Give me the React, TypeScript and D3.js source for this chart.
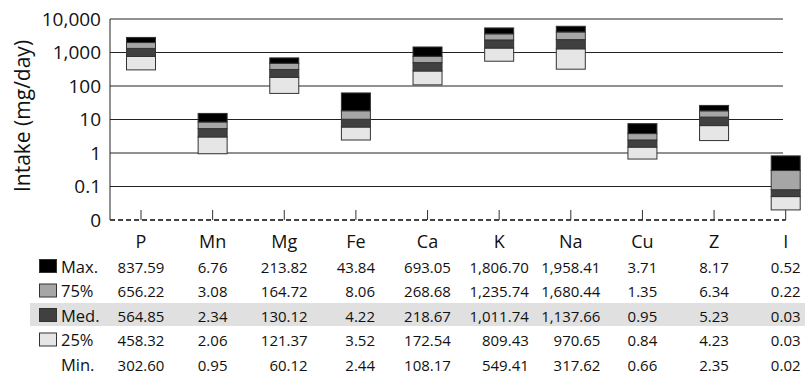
import React from 'react'
import * as d3 from 'd3'

const categories = ['P', 'Mn', 'Mg', 'Fe', 'Ca', 'K', 'Na', 'Cu', 'Z', 'I']
const maxVals = [837.59, 6.76, 213.82, 43.84, 693.05, 1806.7, 1958.41, 3.71, 8.17, 0.52]
const q75Vals = [656.22, 3.08, 164.72, 8.06, 268.68, 1235.74, 1680.44, 1.35, 6.34, 0.22]
const medVals = [564.85, 2.34, 130.12, 4.22, 218.67, 1011.74, 1137.66, 0.95, 5.23, 0.03]
const q25Vals = [458.32, 2.06, 121.37, 3.52, 172.54, 809.43, 970.65, 0.84, 4.23, 0.03]
const minVals = [302.6, 0.95, 60.12, 2.44, 108.17, 549.41, 317.62, 0.66, 2.35, 0.02]

const yTicks = [0.01, 0.1, 1, 10, 100, 1000, 10000]
const yTickLabels = ['0', '0.1', '1', '10', '100', '1,000', '10,000']

// table rows, top to bottom
const rowNames = ['Max.', '75%', 'Med.', '25%', 'Min.']
const rowValues = [maxVals, q75Vals, medVals, q25Vals, minVals]
const rowColors = ['#000000', '#a6a6a6', '#404040', '#e6e6e6', null]

const FONT = "'Open Sans', 'Noto Sans', sans-serif"

const fmt = (v: number) =>
	v.toLocaleString('en-US', {minimumFractionDigits: 2, maximumFractionDigits: 2})

let ctx: CanvasRenderingContext2D | null = null
function textWidth(s: string, size: number) {
	if (!ctx) ctx = document.createElement('canvas').getContext('2d')
	if (!ctx) return s.length * size * 0.55
	ctx.font = `${size}px ${FONT}`
	return ctx.measureText(s).width
}

export default function App() {
	const width = 805
	const height = 377
	const plotLeft = 110
	const gridRight = 783

	const x = d3.scalePoint<string>().domain(categories).range([141, 785.7])
	const y = d3.scaleLog().domain([0.01, 10000]).range([220, 19])
	const barW = 29

	// stacked: min (hidden) then 25%, med, 75%, max
	const table = categories.map((c, i) => ({
		cat: c,
		min: minVals[i], q25: q25Vals[i], med: medVals[i], q75: q75Vals[i], max: maxVals[i],
	}))
	const keys = ['min', 'q25', 'med', 'q75', 'max']
	const fills: Record<string, string> = {q25: '#e6e6e6', med: '#404040', q75: '#a6a6a6', max: '#000000'}
	const series = d3.stack<any>().keys(keys)(table)

	const rowY = (r: number) => 272.5 + r * 24.5
	const numSize = 15

	return (
		<svg width={width} height={height} style={{position: 'absolute', left: 0, top: 0}} fontFamily={FONT}>
			<rect width={width} height={height} fill="#fff" />

			{/* gridlines */}
			{yTicks.slice(1).map(t => (
				<line key={t} x1={plotLeft} x2={gridRight} y1={y(t)} y2={y(t)} stroke="#222" strokeWidth={1} />
			))}
			<line x1={plotLeft} x2={plotLeft} y1={y(10000)} y2={y(0.01)} stroke="#222" strokeWidth={1} />

			{/* bars */}
			{series.filter(s => s.key !== 'min').map(s => (
				<g key={s.key}>
					{s.map((d, i) => (
						<rect
							key={i}
							x={x(categories[i])! - barW / 2}
							y={y(d[1])}
							width={barW}
							height={y(d[0]) - y(d[1])}
							fill={fills[s.key]}
							stroke="#333"
							strokeWidth={1}
						/>
					))}
				</g>
			))}

			{/* bottom axis */}
			<line x1={plotLeft} x2={x('I')} y1={y(0.01)} y2={y(0.01)} stroke="#444" strokeWidth={2} strokeDasharray="5,3" />
			{categories.map(c => (
				<line key={c} x1={x(c)} x2={x(c)} y1={y(0.01) - 10} y2={y(0.01)} stroke="#333" strokeWidth={1} />
			))}

			{/* y tick labels */}
			{yTicks.map((t, i) => (
				<text key={t} x={101} y={y(t)} dy="0.35em" textAnchor="end" fontSize={19} fill="#111">
					{yTickLabels[i]}
				</text>
			))}
			<text transform={`translate(30,116) rotate(-90)`} textAnchor="middle" fontSize={21} fill="#111">
				Intake (mg/day)
			</text>

			{/* category labels */}
			{categories.map(c => (
				<text key={c} x={x(c)} y={248} textAnchor="middle" fontSize={18} fill="#111">{c}</text>
			))}

			{/* data table */}
			<rect x={30} y={303} width={775} height={23} fill="#e0e0e0" />
			{rowNames.map((name, r) => (
				<g key={name}>
					{rowColors[r] && (
						<rect x={39.5} y={rowY(r) - 13} width={17} height={13} fill={rowColors[r]!} stroke="#333" strokeWidth={1} />
					)}
					<text x={61} y={rowY(r)} fontSize={16.5} fill="#111">{name}</text>
				</g>
			))}
			{categories.map((c, i) => {
				const col = rowValues.map(v => fmt(v[i]))
				const maxW = d3.max(col, s => textWidth(s, numSize))!
				const right = x(c)! + maxW / 2
				return (
					<g key={c}>
						{col.map((s, r) => (
							<text key={r} x={right} y={rowY(r)} textAnchor="end" fontSize={numSize} fill="#111">{s}</text>
						))}
					</g>
				)
			})}
		</svg>
	)
}
